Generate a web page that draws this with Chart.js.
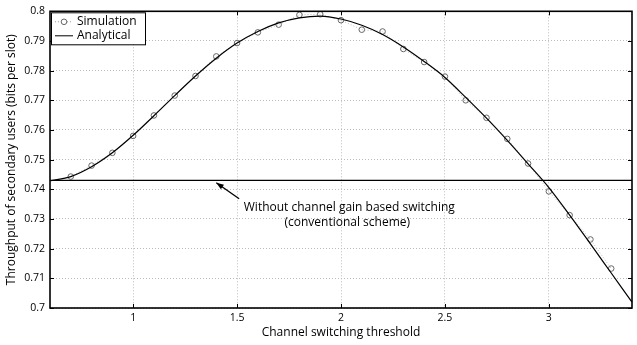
<!DOCTYPE html>
<html>
<head>
<meta charset="utf-8">
<script src="https://cdn.jsdelivr.net/npm/chart.js@4"></script>
<style>
  html, body { margin: 0; padding: 0; background: #fff; }
  canvas { display: block; }
</style>
</head>
<body>
<canvas id="chart" width="637" height="345"></canvas>
<script>
// simulation points
const simX = [0.7, 0.8, 0.9, 1.0, 1.1, 1.2, 1.3, 1.4, 1.5, 1.6, 1.7, 1.8, 1.9, 2.0,
  2.1, 2.2, 2.3, 2.4, 2.5, 2.6, 2.7, 2.8, 2.9, 3.0, 3.1, 3.2, 3.3];
const simY = [0.7443, 0.748, 0.7523, 0.758, 0.7649, 0.7716, 0.7782, 0.7848, 0.7893,
  0.7929, 0.7955, 0.7988, 0.799, 0.797, 0.7938, 0.7932, 0.7873, 0.7829, 0.778,
  0.770, 0.7641, 0.757, 0.7487, 0.7393, 0.7313, 0.7231, 0.7133];

// analytical curve
const anaX = [0.6, 0.7, 0.8, 0.9, 1.0, 1.1, 1.2, 1.3, 1.4, 1.5, 1.6, 1.7, 1.8, 1.9,
  2.0, 2.1, 2.2, 2.3, 2.4, 2.5, 2.6, 2.7, 2.8, 2.9, 3.0, 3.1, 3.2, 3.3, 3.4];
const anaY = [0.7429, 0.7443, 0.7476, 0.7523, 0.7582, 0.7648, 0.7716, 0.7782, 0.7842,
  0.7893, 0.7932, 0.7961, 0.7978, 0.7984, 0.7974, 0.7953, 0.7922, 0.788, 0.7831,
  0.7777, 0.771, 0.764, 0.7565, 0.7486, 0.7406, 0.7313, 0.7216, 0.7118, 0.702];

// conventional scheme (constant)
const convX = [0.6, 3.4];
const convY = [0.743, 0.743];

const xTicks = [1, 1.5, 2, 2.5, 3];
const legendLabels = ["Simulation", "Analytical"];
const noteLines = ["Without channel gain based switching", "(conventional scheme)"];

const FONT = "'Open Sans', 'Noto Sans', sans-serif";

function pts(xs, ys) {
  return xs.map((x, i) => ({ x: x, y: ys[i] }));
}

// box, inner ticks, legend and annotation
const decor = {
  id: "decor",
  afterDatasetsDraw(chart) {
    const ctx = chart.ctx;
    const a = chart.chartArea;
    const xs = chart.scales.x;
    const ys = chart.scales.y;
    ctx.save();

    // inner ticks
    ctx.strokeStyle = "#000";
    ctx.lineWidth = 1;
    ctx.beginPath();
    xs.ticks.forEach((t) => {
      const px = Math.round(xs.getPixelForValue(t.value)) + 0.5;
      ctx.moveTo(px, a.bottom); ctx.lineTo(px, a.bottom - 4);
      ctx.moveTo(px, a.top); ctx.lineTo(px, a.top + 4);
    });
    ys.ticks.forEach((t) => {
      const py = Math.round(ys.getPixelForValue(t.value)) + 0.5;
      ctx.moveTo(a.left, py); ctx.lineTo(a.left + 4, py);
      ctx.moveTo(a.right, py); ctx.lineTo(a.right - 4, py);
    });
    ctx.stroke();

    // frame
    ctx.lineWidth = 1.6;
    ctx.strokeRect(a.left, a.top, a.right - a.left, a.bottom - a.top);

    // legend
    const lx = a.left + 1, ly = a.top + 1;
    ctx.fillStyle = "#fff";
    ctx.fillRect(lx, ly, 94, 32);
    ctx.lineWidth = 1;
    ctx.strokeStyle = "#000";
    ctx.strokeRect(lx + 0.5, ly + 0.5, 94, 32);
    // row 1: simulation marker
    ctx.strokeStyle = "#999";
    ctx.setLineDash([1, 2]);
    ctx.beginPath();
    ctx.moveTo(lx + 4, ly + 9.5); ctx.lineTo(lx + 22, ly + 9.5);
    ctx.stroke();
    ctx.setLineDash([]);
    ctx.fillStyle = "#fff";
    ctx.strokeStyle = "#666";
    ctx.beginPath();
    ctx.arc(lx + 13, ly + 9.5, 2.8, 0, Math.PI * 2);
    ctx.fill();
    ctx.stroke();
    // row 2: analytical line
    ctx.strokeStyle = "#000";
    ctx.beginPath();
    ctx.moveTo(lx + 4, ly + 23.5); ctx.lineTo(lx + 22, ly + 23.5);
    ctx.stroke();
    ctx.fillStyle = "#000";
    ctx.font = "12px " + FONT;
    ctx.textAlign = "left";
    ctx.textBaseline = "middle";
    ctx.fillText(legendLabels[0], lx + 26, ly + 9);
    ctx.fillText(legendLabels[1], lx + 26, ly + 23);

    // annotation arrow
    const tx = xs.getPixelForValue(1.51), ty = ys.getPixelForValue(0.7368);
    const hx = xs.getPixelForValue(1.4), hy = ys.getPixelForValue(0.7422);
    ctx.lineWidth = 1.3;
    ctx.beginPath();
    ctx.moveTo(tx, ty); ctx.lineTo(hx, hy);
    ctx.stroke();
    const ang = Math.atan2(hy - ty, hx - tx);
    ctx.beginPath();
    ctx.moveTo(hx, hy);
    ctx.lineTo(hx - 8 * Math.cos(ang - 0.35), hy - 8 * Math.sin(ang - 0.35));
    ctx.lineTo(hx - 8 * Math.cos(ang + 0.35), hy - 8 * Math.sin(ang + 0.35));
    ctx.closePath();
    ctx.fill();

    ctx.textAlign = "center";
    ctx.fillText(noteLines[0], xs.getPixelForValue(2.04), ys.getPixelForValue(0.7338));
    ctx.fillText(noteLines[1], xs.getPixelForValue(2.03), ys.getPixelForValue(0.7288));
    ctx.restore();
  }
};

new Chart(document.getElementById("chart"), {
  type: "scatter",
  data: {
    datasets: [
      {
        label: "Conventional",
        data: pts(convX, convY),
        showLine: true,
        borderColor: "#000",
        borderWidth: 1.2,
        pointRadius: 0
      },
      {
        label: "Analytical",
        data: pts(anaX, anaY),
        showLine: true,
        cubicInterpolationMode: "monotone",
        borderColor: "#000",
        borderWidth: 1.2,
        pointRadius: 0
      },
      {
        label: "Simulation",
        data: pts(simX, simY),
        showLine: true,
        borderColor: "#aaa",
        borderWidth: 0.8,
        borderDash: [1, 2],
        pointStyle: "circle",
        pointRadius: 2.8,
        pointBorderWidth: 1,
        pointBorderColor: "#666",
        pointBackgroundColor: "rgba(0,0,0,0)"
      }
    ]
  },
  options: {
    responsive: false,
    animation: false,
    devicePixelRatio: 1,
    clip: false,
    layout: { padding: { top: 8, right: 1, left: 0, bottom: 0 } },
    plugins: {
      legend: { display: false },
      tooltip: { enabled: false }
    },
    scales: {
      x: {
        type: "linear",
        min: 0.6,
        max: 3.4,
        afterBuildTicks: (s) => { s.ticks = xTicks.map((v) => ({ value: v })); },
        afterFit: (s) => { s.height = 37; },
        border: { display: false, dash: [1, 2] },
        grid: { color: "#bdbdbd", drawTicks: false, lineWidth: 1 },
        ticks: {
          padding: 4,
          color: "#000",
          font: { family: FONT, size: 10.5 },
          callback: (v) => String(v)
        },
        title: {
          display: true,
          text: "Channel switching threshold",
          color: "#000",
          font: { family: FONT, size: 12 },
          padding: { top: 0, bottom: 5 }
        }
      },
      y: {
        min: 0.7,
        max: 0.8,
        ticks: {
          stepSize: 0.01,
          padding: 5,
          color: "#000",
          font: { family: FONT, size: 10.5 },
          callback: (v) => String(Number(v.toFixed(2)))
        },
        afterFit: (s) => { s.width = 50; },
        border: { display: false, dash: [1, 2] },
        grid: { color: "#bdbdbd", drawTicks: false, lineWidth: 1 },
        title: {
          display: true,
          text: "Throughput of secondary users (bits per slot)",
          color: "#000",
          font: { family: FONT, size: 12 },
          padding: { top: 4, bottom: 0 }
        }
      }
    }
  },
  plugins: [decor]
});
</script>
</body>
</html>
